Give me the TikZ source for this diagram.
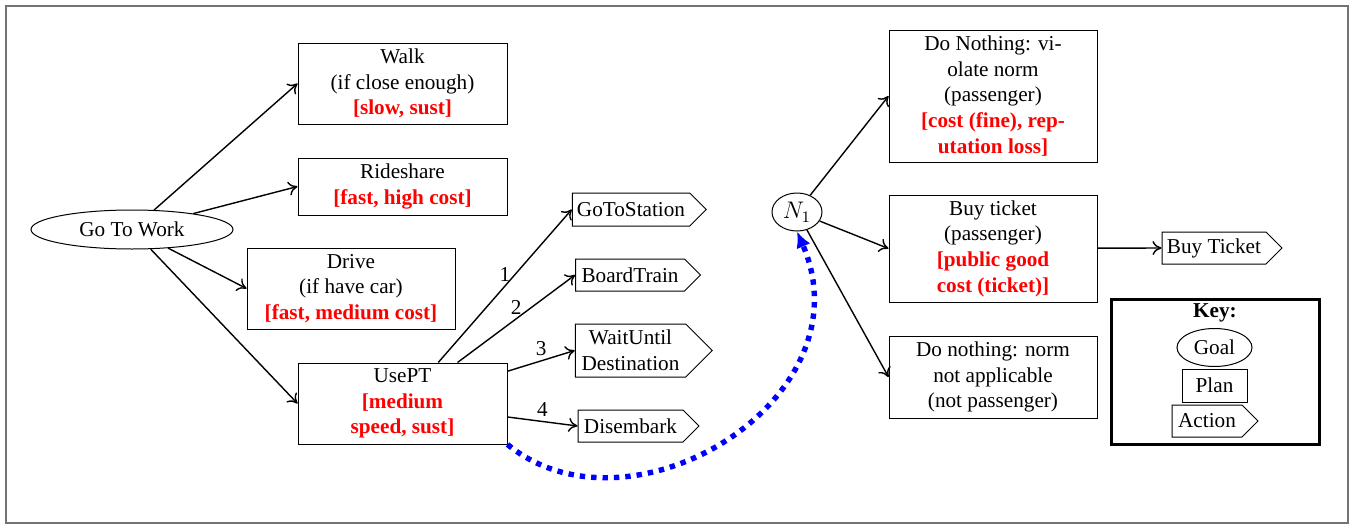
\documentclass[tikz,border=0pt]{standalone}
\usepackage{fontspec}
\setmainfont{Liberation Serif}
\usetikzlibrary{shapes.geometric,shapes.symbols,arrows.meta}
\newcommand\cst[1]{\textcolor{red}{\textbf{#1}}}
\begin{document}
\begin{tikzpicture}[x=0.5pt,y=-0.5pt,
  every node/.style={font=\fontsize{10.6}{12.8}\selectfont, align=center},
  plan/.style={draw, line width=0.5pt, rectangle, inner sep=0pt},
  goal/.style={draw, line width=0.5pt, ellipse, inner sep=0pt},
  act/.style={draw, line width=0.5pt, signal, signal to=east, inner sep=2pt},
  edge/.style={-{To[length=4.5pt,width=7pt]}, line width=0.7pt},
  num/.style={above, inner sep=2pt}
]
\useasboundingbox (0,0) rectangle (1351,525);
\draw[black!55, line width=1pt] (6,6) rectangle (1348,523);

% goal
\node[goal, minimum width=101pt, minimum height=19.5pt] (gtw) at (132,229.5) {Go To Work};

% plans
\node[plan, minimum width=104.5pt, minimum height=40.5pt] (walk) at (402.5,83.5) {Walk\\(if close enough)\\\cst{[slow, sust]}};
\node[plan, minimum width=104.5pt, minimum height=28.5pt] (ride) at (402.5,186.5) {Rideshare\\\cst{[fast, high cost]}};
\node[plan, minimum width=104pt, minimum height=40.5pt] (drive) at (351,288.5) {Drive\\(if have car)\\\cst{[fast, medium cost]}};
\node[plan, minimum width=104.5pt, minimum height=40.5pt] (usept) at (402.5,403.5) {UsePT\\\cst{[medium}\\\cst{speed, sust]}};

% actions
\node[act, minimum width=67pt, minimum height=16.5pt] (gts) at (631,209.5) {GoToStation};
\node[act, minimum width=62.5pt, minimum height=16pt] (btr) at (630,275) {BoardTrain};
\node[act, minimum width=68.5pt, minimum height=26.5pt] (wud) at (630.5,350.5) {WaitUntil\\Destination};
\node[act, minimum width=60.5pt, minimum height=16pt] (dis) at (630.5,426) {Disembark};

% norm
\node[goal, minimum width=25pt, minimum height=19pt] (n1) at (797,212) {\large$N_1$};
\node[plan, minimum width=104pt, minimum height=66pt] (dn) at (993,96) {Do Nothing: vi-\\olate norm\\(passenger)\\\cst{[cost (fine), rep-}\\\cst{utation loss]}};
\node[plan, minimum width=104pt, minimum height=53.5pt] (bt) at (993,248.5) {Buy ticket\\(passenger)\\\cst{[public good}\\\cst{cost (ticket)]}};
\node[plan, minimum width=104pt, minimum height=41pt] (dnn) at (993,377) {Do nothing: norm\\not applicable\\(not passenger)};
\node[act, minimum width=60pt, minimum height=16pt] (bta) at (1214,248) {Buy Ticket};

% key
\node[draw, line width=1.5pt, minimum width=104pt, minimum height=72.5pt] (key) at (1215,371.5) {};
\node (keyt) at (1215,313) {\textbf{Key:}};
\node[goal, minimum width=37.5pt, minimum height=19pt] (kgoal) at (1214.5,347.5) {Goal};
\node[plan, minimum width=32.5pt, minimum height=16.5pt] (kplan) at (1214.5,385.5) {Plan};
\node[act, minimum width=43pt, minimum height=16pt] (kact) at (1207,421) {Action};

% edges
\draw[edge] (gtw) -- (walk.west);
\draw[edge] (gtw) -- (ride.west);
\draw[edge] (gtw) -- (drive.west);
\draw[edge] (gtw) -- (usept.west);

\draw[edge] (usept) -- node[num]{1} (gts.west);
\draw[edge] (usept) -- node[num]{2} (btr.west);
\draw[edge] (usept) -- node[num]{3} (wud.west);
\draw[edge] (usept) -- node[num]{4} (dis.west);

\draw[edge] (n1) -- (dn.west);
\draw[edge] (n1) -- (bt.west);
\draw[edge] (n1) -- (dnn.west);
\draw[edge] (bt) -- (bta.west);

\draw[blue, line width=2.7pt, dash pattern=on 2.7pt off 3pt, -{Latex[length=8pt,width=7.5pt]}]
  (usept.south east) .. controls (630,545) and (870,400) .. (n1.south);
\end{tikzpicture}
\end{document}
